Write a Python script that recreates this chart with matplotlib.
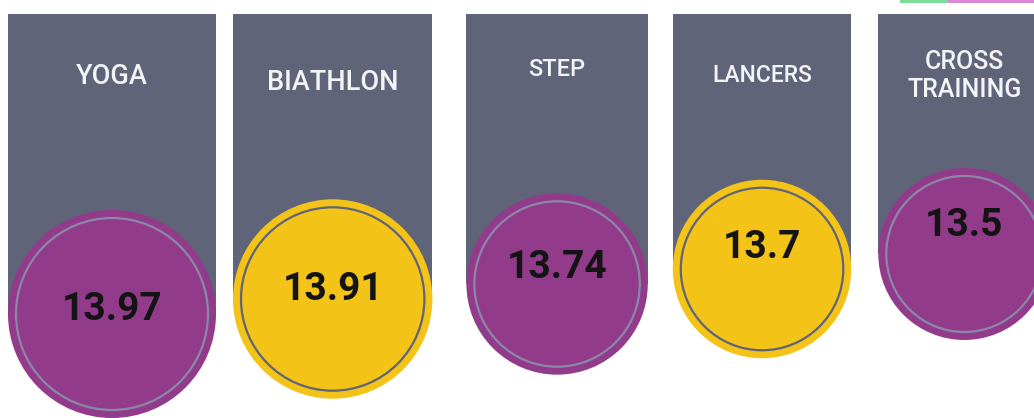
import matplotlib.pyplot as plt
from matplotlib.patches import Rectangle, Circle
import numpy as np

sports = ['YOGA', 'BIATHLON', 'STEP', 'LANCERS', 'CROSS\nTRAINING']
scores = [13.97, 13.91, 13.74, 13.7, 13.5]

GRAY = '#5f6479'
PURPLE = '#933b8b'
YELLOW = '#f3c318'
fills = [PURPLE, YELLOW, PURPLE, YELLOW, PURPLE]
rings = ['#8c86a8', GRAY, '#8c86a8', GRAY, '#8c86a8']

W, H = 1034, 418
fig = plt.figure(figsize=(W / 100, H / 100), dpi=100)
ax = fig.add_axes([0, 0, 1, 1])
ax.set_xlim(0, W)
ax.set_ylim(H, 0)
ax.axis('off')

# bubble radius on a squared scale between the lowest and highest score
vals = np.array(scores)
r_lo, r_hi = 86, 104
t = ((vals - vals.min()) / (vals.max() - vals.min())) ** 2
radii = r_lo + t * (r_hi - r_lo)

gaps = [17, 34, 25, 27, 0]
x0 = 8
top = 14
label_y = [77, 82, 70, 76, 76]
label_size = [19.5, 19.5, 17, 16.5, 18]

left = x0
for i, (name, v, r) in enumerate(zip(sports, scores, radii)):
    cx = left + r
    cy = 314 - 15 * i
    ax.add_patch(Rectangle((left, top), 2 * r, cy - top,
                           facecolor=GRAY, edgecolor='none', zorder=1))
    ax.add_patch(Circle((cx, cy), r, facecolor=fills[i],
                        edgecolor='none', zorder=2))
    ax.add_patch(Circle((cx, cy), r - 8, facecolor='none',
                        edgecolor=rings[i], linewidth=1.6, zorder=3))
    ax.text(cx, label_y[i], name, color='#f4f4f6', ha='center',
            va='center', fontsize=label_size[i], family='Roboto',
            fontweight='medium', linespacing=1.25, zorder=4)
    ax.text(cx, cy - (4 + 6 * i), f'{v:g}', color='#141414',
            ha='center', va='center', fontsize=28, family='Roboto',
            fontweight='bold', zorder=4)
    left += 2 * r + gaps[i]

# legend swatches peeking in at the top edge
ax.add_patch(Rectangle((900, 0), 48, 3, facecolor='#7ddc9a',
                       edgecolor='none', clip_on=False))
ax.add_patch(Rectangle((948, 0), 90, 3, facecolor='#d88ad8',
                       edgecolor='none', clip_on=False))

fig.savefig('out.png', dpi=100, facecolor='white')
